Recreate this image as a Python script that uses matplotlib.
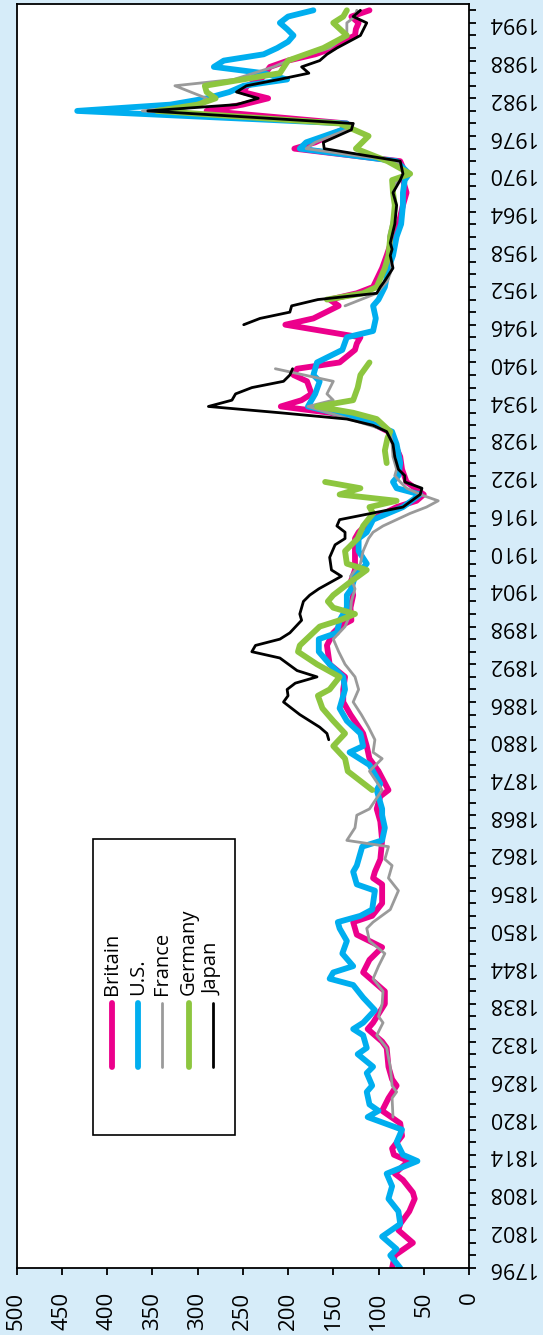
import numpy as np
import matplotlib
matplotlib.use("Agg")
import matplotlib.pyplot as plt
from matplotlib.patches import Rectangle

plt.rcParams['font.family'] = ['Open Sans', 'DejaVu Sans']

nan = np.nan

# Britain
britain_years = [1796, 1798, 1800, 1802, 1803, 1805, 1807, 1808, 1810, 1811, 1813, 1814, 1815, 1817,
                 1819, 1821, 1823, 1825, 1826, 1828, 1831, 1832, 1834, 1835, 1838, 1840, 1843, 1845,
                 1847, 1849, 1851, 1852, 1854, 1857, 1858, 1859, 1861, 1864, 1867, 1869, 1871, 1872,
                 1875, 1877, 1879, 1881, 1884, 1886, 1888, 1890, 1892, 1895, 1897, 1898, 1899, 1901,
                 1903, 1905, 1907, 1910, 1912, 1913, 1915, 1917, 1918, 1919, 1921, 1923, 1925, 1927,
                 1929, 1931, 1932, 1933, 1934, 1935, 1937, 1938, 1939, 1940, 1942, 1943, 1944, 1946,
                 1947, 1949, 1950, 1951, 1952, 1955, 1957, 1960, 1962, 1965, 1967, 1969, 1970, 1972,
                 1974, 1975, 1977, 1978, 1980, 1981, 1982, 1983, 1984, 1985, 1987, 1988, 1989, 1990,
                 1991, 1992, 1993, 1994, 1995, 1996]
britain_vals = [85, 82, 62, 78, 76, 66, 60, 62, 73, 82, 67, 83, 85, 74,
                76, 96, 89, 80, 85, 89, 91, 96, 112, 106, 93, 93, 117, 110,
                96, 124, 128, 107, 96, 96, 106, 104, 98, 96, 98, 102, 98, 89,
                100, 110, 113, 117, 131, 139, 139, 137, 154, 157, 150, 143, 130, 131,
                128, 131, 126, 126, 126, 122, 108, 80, 58, 50, 69, 74, 76, 82,
                89, 117, 154, 208, 185, 174, 179, 194, 190, 143, 126, 124, 120, 203,
                172, 144, 154, 124, 106, 96, 91, 84, 78, 73, 69, 73, 70, 76,
                193, 170, 140, 135, 290, 250, 222, 250, 245, 230, 220, 200, 170, 150,
                140, 126, 125, 122, 130, 110]

# U.S.
us_years = [1796, 1798, 1799, 1801, 1803, 1805, 1807, 1809, 1811, 1813, 1814, 1816, 1818, 1820,
            1821, 1822, 1824, 1825, 1827, 1828, 1830, 1831, 1833, 1834, 1835, 1837, 1839, 1841,
            1842, 1843, 1844, 1846, 1848, 1850, 1851, 1852, 1853, 1856, 1857, 1859, 1860, 1863,
            1864, 1866, 1868, 1869, 1872, 1873, 1876, 1878, 1879, 1881, 1883, 1885, 1888, 1890,
            1892, 1894, 1896, 1897, 1899, 1901, 1903, 1904, 1906, 1908, 1910, 1912, 1913, 1915,
            1917, 1919, 1920, 1921, 1922, 1924, 1927, 1929, 1931, 1933, 1935, 1937, 1938, 1940,
            1942, 1944, 1945, 1947, 1949, 1950, 1952, 1955, 1957, 1960, 1962, 1965, 1967, 1969,
            1970, 1972, 1974, 1975, 1976, 1977, 1978, 1980, 1981, 1982, 1983, 1984, 1985, 1986,
            1987, 1988, 1989, 1990, 1991, 1992, 1993, 1994, 1995, 1996]
us_vals = [76, 87, 80, 96, 76, 78, 89, 85, 91, 57, 73, 80, 74, 112,
           100, 110, 113, 107, 113, 106, 123, 113, 117, 128, 117, 104, 117, 128,
           154, 150, 128, 140, 135, 143, 145, 120, 107, 104, 124, 128, 124, 118,
           96, 93, 96, 96, 102, 98, 110, 132, 117, 120, 135, 143, 137, 139,
           154, 166, 166, 146, 143, 135, 135, 130, 126, 113, 122, 122, 113, 106,
           73, 54, 80, 84, 78, 76, 80, 85, 120, 178, 170, 165, 172, 168,
           140, 135, 106, 103, 106, 100, 93, 89, 84, 80, 75, 73, 73, 71,
           66, 80, 187, 180, 160, 140, 135, 433, 330, 290, 265, 249, 201, 227,
           282, 271, 227, 212, 200, 194, 201, 209, 200, 172]

# France
france_years = [1820, 1823, 1824, 1825, 1828, 1831, 1833, 1835, 1836, 1838, 1840, 1842, 1844, 1846,
                1848, 1850, 1851, 1853, 1856, 1858, 1860, 1861, 1863, 1864, 1866, 1868, 1869, 1872,
                1875, 1877, 1878, 1880, 1882, 1884, 1886, 1888, 1890, 1892, 1894, 1896, 1898, 1900,
                1902, 1904, 1906, 1908, 1910, 1912, 1913, 1914, 1916, 1917, 1918, 1919, 1920, 1921,
                1922, 1923, 1925, 1927, 1929, 1933, 1934, 1935, 1937, 1939, 1944, 1949, 1951, 1953,
                1955, 1957, 1960, 1963, 1966, 1968, 1970, 1972, 1974, 1975, 1977, 1978, 1980, 1981,
                1982, 1984, 1985, 1987, 1988, 1990, 1992, 1994, 1995, 1996]
france_vals = [84, 85, 80, 85, 87, 91, 102, 95, 100, 96, 95, 106, 100, 93,
               110, 113, 106, 87, 78, 89, 85, 93, 89, 135, 126, 124, 110, 96,
               110, 96, 106, 104, 111, 119, 128, 122, 126, 137, 144, 150, 137, 131,
               130, 126, 131, 120, 117, 111, 106, 95, 65, 47, 34, 54, 69, 76,
               82, 80, 84, 85, 87, 178, 150, 157, 150, 214, nan, 137, 102, 90,
               85, 88, 89, 84, 82, 84, 70, 80, 180, 170, 135, 128, 361, 300,
               290, 325, 260, 216, 200, 154, 135, 135, 126, 124]

# Germany
germany_years = [1872, 1875, 1877, 1879, 1881, 1883, 1885, 1887, 1888, 1890, 1892, 1894, 1895, 1898,
                 1899, 1900, 1901, 1902, 1903, 1905, 1907, 1908, 1910, 1912, 1914, 1916, 1917, 1918,
                 1919, 1920, 1921, 1922, 1924, 1926, 1928, 1929, 1931, 1932, 1933, 1934, 1936, 1938,
                 1939, 1940, 1945, 1950, 1951, 1952, 1955, 1957, 1960, 1962, 1965, 1967, 1969, 1970,
                 1972, 1974, 1976, 1978, 1980, 1981, 1982, 1983, 1984, 1985, 1986, 1988, 1990, 1992,
                 1994, 1995, 1996]
germany_vals = [107, 134, 137, 150, 137, 150, 162, 167, 154, 143, 168, 189, 187, 165,
                143, 126, 150, 156, 150, 132, 113, 135, 137, 123, 117, 106, 110, 80,
                143, 120, 159, nan, 91, 93, 90, 87, 102, 128, 168, 128, 123, 120,
                115, 110, nan, 157, 117, 102, 93, 89, 87, 84, 82, 84, 85, 65,
                90, 125, 111, 143, 345, 300, 280, 290, 292, 250, 209, 200, 161, 135,
                150, 139, 135]

# Japan
japan_years = [1880, 1881, 1882, 1884, 1885, 1886, 1887, 1888, 1889, 1890, 1891, 1893, 1894, 1895,
               1896, 1897, 1899, 1900, 1902, 1903, 1904, 1906, 1907, 1909, 1911, 1912, 1913, 1914,
               1915, 1916, 1917, 1919, 1920, 1921, 1922, 1923, 1925, 1927, 1929, 1930, 1931, 1932,
               1933, 1934, 1935, 1936, 1937, 1938, 1939, 1942, 1946, 1947, 1948, 1949, 1950, 1951,
               1952, 1953, 1955, 1957, 1958, 1959, 1962, 1965, 1967, 1969, 1970, 1972, 1974, 1975,
               1977, 1978, 1980, 1981, 1982, 1983, 1984, 1985, 1986, 1987, 1988, 1989, 1990, 1992,
               1994, 1995, 1996]
japan_vals = [155, 157, 165, 187, 196, 205, 200, 201, 192, 168, 190, 209, 240, 236,
              209, 198, 185, 187, 183, 176, 166, 141, 152, 154, 148, 137, 137, 146,
              143, 108, 73, 54, 52, 71, 71, 78, 82, 84, 91, 106, 135, 209,
              288, 262, 258, 240, 205, 198, 195, nan, 249, 231, 198, 196, 167, 102,
              98, 93, 84, 87, 85, 87, 82, 80, 84, 76, 73, 76, 160, 161,
              130, 128, 355, 257, 233, 257, 246, 210, 177, 185, 165, 157, 146, 120,
              113, 128, 120]

names = ['Britain', 'U.S.', 'France', 'Germany', 'Japan']
colors = ['#ec008c', '#00aeef', '#9a9a9a', '#8dc63f', '#000000']
widths = [4.2, 4.2, 2.0, 4.2, 2.0]
series = [(britain_years, britain_vals), (us_years, us_vals), (france_years, france_vals),
          (germany_years, germany_vals), (japan_years, japan_vals)]

fig = plt.figure(figsize=(5.43, 13.35), dpi=100)
fig.patch.set_facecolor('#d6ecf9')
ax = fig.add_axes([0.0306, 0.0502, 0.8331, 0.9468])
ax.set_facecolor('white')

# the chart is drawn turned on its side: value runs across, year runs up
for (yrs, vals), c, lw in zip(series, colors, widths):
    ax.plot(vals, yrs, color=c, lw=lw, solid_joinstyle='round', solid_capstyle='round')

ax.set_xlim(500, 0)
ax.set_ylim(1796, 1997)
ax.set_xticks(np.arange(0, 501, 50))
ax.set_yticks(np.arange(1796, 1995, 6))
ax.set_yticks(np.arange(1796, 1997, 2), minor=True)
ax.yaxis.tick_right()
ax.tick_params(axis='x', direction='out', length=5, width=1.3, pad=12, labelsize=16,
               labelrotation=90)
ax.tick_params(axis='y', which='both', direction='out', length=5, width=1.3, pad=8,
               labelsize=15.5)
for lab in ax.get_yticklabels():
    lab.set_rotation(180)
    lab.set_va('center')
for s in ax.spines.values():
    s.set_linewidth(1.3)

# legend, written sideways like the rest of the chart
ax.add_patch(Rectangle((0.169, 0.105), 0.314, 0.234, transform=ax.transAxes,
                       fill=False, ec='black', lw=1.2, zorder=5))
legend_x = [0.211, 0.268, 0.321, 0.381, 0.434]
for lx, name, c, lw in zip(legend_x, names, colors, widths):
    ax.plot([lx, lx], [0.159, 0.210], transform=ax.transAxes, color=c,
            lw=lw, solid_capstyle='round', zorder=6)
    ax.text(lx, 0.216, name, transform=ax.transAxes, rotation=90, ha='center',
            va='bottom', fontsize=14.5, zorder=6)

fig.savefig('out.png', dpi=100, facecolor=fig.get_facecolor())
